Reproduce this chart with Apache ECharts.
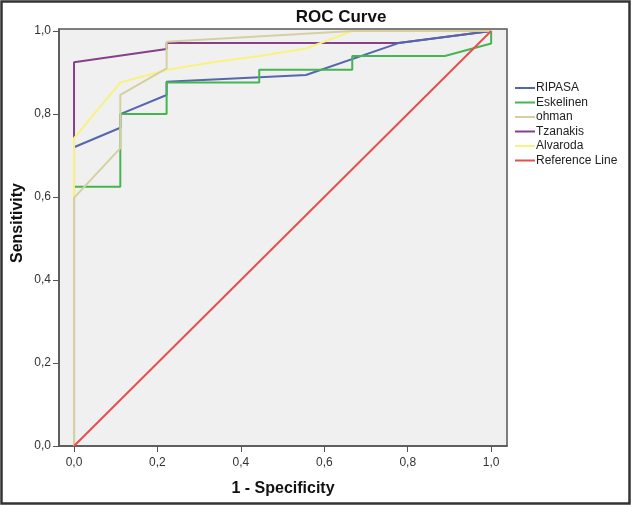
<!DOCTYPE html>
<html>
<head>
<meta charset="utf-8">
<script src="https://cdn.jsdelivr.net/npm/echarts@6/dist/echarts.min.js"></script>
<style>
html,body{margin:0;padding:0;background:#fff;}
#chart{width:631px;height:505px;}
</style>
</head>
<body>
<div id="chart"></div>
<script>
// Data (1 - Specificity, Sensitivity)
const seriesNames = ['RIPASA', 'Eskelinen', 'ohman', 'Tzanakis', 'Alvaroda', 'Reference Line'];
const ripasaFpr = [0, 0, 0.111, 0.111, 0.222, 0.222, 0.556, 0.778, 1];
const ripasaTpr = [0, 0.72, 0.767, 0.80, 0.846, 0.878, 0.894, 0.971, 1];
const eskelinenFpr = [0, 0, 0.111, 0.111, 0.222, 0.222, 0.444, 0.444, 0.667, 0.667, 0.889, 1, 1];
const eskelinenTpr = [0, 0.625, 0.625, 0.80, 0.80, 0.876, 0.876, 0.907, 0.907, 0.94, 0.94, 0.97, 1];
const ohmanFpr = [0, 0, 0.111, 0.111, 0.222, 0.222, 0.667, 1];
const ohmanTpr = [0, 0.598, 0.718, 0.846, 0.91, 0.974, 1, 1];
const tzanakisFpr = [0, 0, 0.222, 0.222, 0.778, 1];
const tzanakisTpr = [0, 0.925, 0.957, 0.971, 0.971, 1];
const alvarodaFpr = [0, 0, 0.111, 0.222, 0.333, 0.444, 0.556, 0.667, 1];
const alvarodaTpr = [0, 0.742, 0.876, 0.906, 0.925, 0.94, 0.958, 1, 1];
const referenceFpr = [0, 1];
const referenceTpr = [0, 1];
const tickValues = [0, 0.2, 0.4, 0.6, 0.8, 1.0];

const colors = ['#5566ad', '#45b552', '#d6d0a0', '#86408a', '#f8f37e', '#e5504f'];
const drawOrder = [2, 3, 5, 1, 4, 6]; // stacking of the series lines

function pairs(xs, ys) { return xs.map((x, i) => [x, ys[i]]); }
const allData = [
  pairs(ripasaFpr, ripasaTpr),
  pairs(eskelinenFpr, eskelinenTpr),
  pairs(ohmanFpr, ohmanTpr),
  pairs(tzanakisFpr, tzanakisTpr),
  pairs(alvarodaFpr, alvarodaTpr),
  pairs(referenceFpr, referenceTpr)
];

const fmt = v => v.toFixed(1).replace('.', ',');
const font = '"Liberation Sans", Arial, sans-serif';

const chart = echarts.init(document.getElementById('chart'), null, {renderer: 'canvas'});
chart.setOption({
  animation: false,
  backgroundColor: '#ffffff',
  title: {
    text: 'ROC Curve',
    left: 336, top: 4, textAlign: 'center',
    textStyle: {fontFamily: font, fontSize: 17, fontWeight: 'bold', color: '#111'}
  },
  grid: {
    left: 59, right: 124, top: 29, bottom: 59,
    show: true, backgroundColor: '#f0f0f0', borderColor: '#555', borderWidth: 1.5
  },
  legend: {
    orient: 'vertical', left: 510, top: 77,
    icon: 'rect', itemWidth: 20, itemHeight: 2, itemGap: 2.5,
    textStyle: {fontFamily: font, fontSize: 12, color: '#222', lineHeight: 12, padding: [0, 0, 0, -4]},
    data: seriesNames
  },
  xAxis: {
    type: 'value', min: -0.036, max: 1.038,
    splitLine: {show: false},
    axisLine: {show: true, onZero: false, lineStyle: {color: '#555', width: 1.5}},
    axisTick: {show: true, length: 6, lineStyle: {color: '#555'}, customValues: tickValues},
    axisLabel: {customValues: tickValues, formatter: fmt, margin: 11, fontFamily: font, fontSize: 12, color: '#333'}
  },
  yAxis: {
    type: 'value', min: 0, max: 1.005,
    splitLine: {show: false},
    axisLine: {show: true, onZero: false, lineStyle: {color: '#555', width: 1.5}},
    axisTick: {show: true, length: 6, lineStyle: {color: '#555'}, customValues: tickValues},
    axisLabel: {customValues: tickValues, formatter: fmt, margin: 8, fontFamily: font, fontSize: 12, color: '#333'}
  },
  graphic: [
    {type: 'rect', shape: {x: 1.5, y: 1.5, width: 628, height: 502}, style: {fill: 'none', stroke: '#333', lineWidth: 2.5}, z: 100},
    {type: 'text', x: 283, y: 489, style: {text: '1 - Specificity', font: 'bold 16px ' + font, fill: '#111', textAlign: 'center', textVerticalAlign: 'middle'}},
    {type: 'text', x: 18, y: 223, rotation: Math.PI / 2, style: {text: 'Sensitivity', font: 'bold 16px ' + font, fill: '#111', textAlign: 'center', textVerticalAlign: 'middle'}}
  ],
  series: seriesNames.map((name, i) => ({
    name: name, type: 'line', data: allData[i],
    z: drawOrder[i],
    showSymbol: false, symbol: 'none',
    lineStyle: {color: colors[i], width: 2},
    itemStyle: {color: colors[i]},
    clip: false
  }))
});
</script>
</body>
</html>
